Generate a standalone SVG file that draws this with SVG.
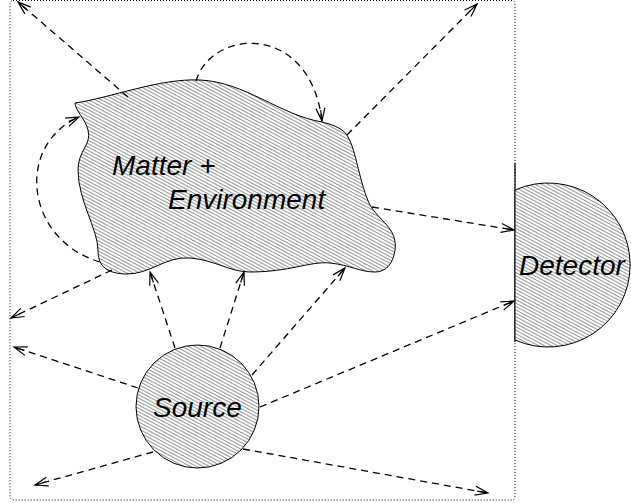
<svg xmlns="http://www.w3.org/2000/svg" width="631" height="503" viewBox="0 0 631 503">
<style>
.conn{fill:none;stroke:#000;stroke-width:1.3;stroke-dasharray:7,5;marker-end:url(#ah)}
.shape{fill:url(#hatch);stroke:#000;stroke-width:1}
.lbl{font-family:"Liberation Sans",Arial,sans-serif;font-style:italic;font-size:28px;fill:#000}
</style>
<defs>
<pattern id="hatch" patternUnits="userSpaceOnUse" width="6" height="3" patternTransform="rotate(28)">
<rect width="6" height="3" fill="#fff"/>
<line x1="0" y1="1.5" x2="6" y2="1.5" stroke="#8a8a8a" stroke-width="0.9"/>
</pattern>
<marker id="ah" markerUnits="userSpaceOnUse" viewBox="-15 -7 17 14" refX="0" refY="0" markerWidth="17" markerHeight="14" orient="auto" overflow="visible">
<path d="M-13,-4.5 L0,0 L-13,4.5 M-11,0 L0,0" fill="none" stroke="#000" stroke-width="1.2" stroke-dasharray="none"/>
</marker>
</defs>
<g id="frame">
<rect x="10" y="0.5" width="505" height="499.5" rx="3" fill="none" stroke="#000" stroke-width="1" stroke-dasharray="1,2"/>
<line x1="515" y1="163" x2="515" y2="342" stroke="#000" stroke-width="1.2"/>
</g>
<g id="matter">
<path class="shape" d="M75,103 C110,98 160,78 200,80 C245,82 280,115 322,122 C335,125 345,130 348,137 C356,150 360,185 370,205 C378,220 398,228 395,250 C393,265 385,272 375,272 C360,272 350,265 330,263 C310,261 290,272 250,272 C230,272 215,260 190,258 C165,256 150,275 125,274 C105,273 98,265 98,250 C98,230 78,200 78,170 C78,150 92,145 88,130 C86,120 75,110 75,103 Z"/>
<text class="lbl" x="112" y="175">Matter +</text>
<text class="lbl" x="168" y="209">Environment</text>
</g>
<g id="source">
<circle class="shape" cx="197.5" cy="406.5" r="61.5"/>
<text class="lbl" x="153" y="417">Source</text>
</g>
<g id="detector">
<path class="shape" d="M515,190 A82,82 0 1,1 515,340 Z"/>
<text class="lbl" x="519" y="275">Detector</text>
</g>
<g id="connectors">
<path class="conn" d="M128,97 L18,2"/>
<path class="conn" d="M196,81 C212,28 310,22 322,121"/>
<path class="conn" d="M100,262 C25,240 15,145 79,117"/>
<path class="conn" d="M347,135 L477,4"/>
<path class="conn" d="M372,207 L514,230"/>
<path class="conn" d="M112,270 L11,318"/>
<path class="conn" d="M175,348 L150,272"/>
<path class="conn" d="M220,348 L244,272"/>
<path class="conn" d="M252,375 L345,268"/>
<path class="conn" d="M138,388 L14,347"/>
<path class="conn" d="M153,452 L35,485"/>
<path class="conn" d="M260,407 L514,301"/>
<path class="conn" d="M243,449 L488,493"/>
</g>
</svg>
